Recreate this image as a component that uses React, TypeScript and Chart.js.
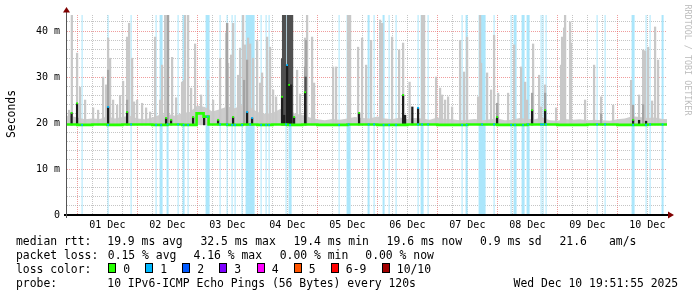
import React, { useEffect, useRef } from 'react';
import { Chart, registerables } from 'chart.js';

Chart.register(...registerables);

// ---- axes (x in hours relative to 01 Dec 00:00, y in milliseconds) ----
const startHour = -4.135; // Nov 30 19:52
const endHour = 235.865; // Dec 10 19:52
const yMaxMs = 43.5;
const smokeFloorMs = 19.6;

const dayLabels = ['01 Dec', '02 Dec', '03 Dec', '04 Dec', '05 Dec', '06 Dec', '07 Dec', '08 Dec', '09 Dec', '10 Dec'];
const yLabelValues = [0, 10, 20, 30, 40];
const yLabelTexts = ['0', '10 m', '20 m', '30 m', '40 m'];

// ---- loss periods (full height light blue) ----
const lossStart = [
  1.7, 12.1, 21.3, 31.3, 32.9, 35.7, 40.1, 42.1, 44.1, 51.3, 56.9, 59.7, 61.7, 62.9, 65.7, 67.3,
  73.3, 75.3, 76.5, 83.3, 84.5, 104.5, 107.7, 116.1, 118.5, 122.1, 124.5, 127.3, 136.1, 137.3, 140.1,
  153.7, 155.3, 160.5, 166.5, 173.3, 174.5, 177.7, 179.7, 185.3, 186.1, 187.3, 207.7, 210.9, 221.7,
  227.3, 228.9, 233.7,
];
const lossDur = [
  0.4, 0.4, 0.4, 0.4, 1.2, 0.8, 0.4, 0.8, 0.4, 1.6, 0.4, 0.4, 0.4, 0.4, 0.4, 3.6,
  0.4, 0.4, 0.4, 0.4, 1.2, 0.4, 1.6, 0.8, 0.4, 0.8, 0.4, 0.4, 0.4, 1.2, 0.4,
  0.4, 0.8, 2.8, 0.4, 0.4, 1.2, 1.2, 1.2, 0.4, 0.4, 0.4, 0.4, 0.4, 1.2,
  0.4, 0.4, 0.8,
];

// ---- median rtt (ms), step values ----
const medianHours = [-4.2, 0, 6, 12, 18, 24, 30, 36, 42, 47.7, 50.5, 52.5, 60, 66, 72, 78, 84, 90, 96, 108, 120, 132, 144, 156, 168, 180, 192, 204, 216, 228, 236];
const medianMs = [19.7, 19.6, 19.7, 19.6, 19.7, 19.7, 19.6, 19.7, 19.6, 22.1, 21.4, 19.7, 19.6, 19.7, 19.6, 19.7, 19.6, 19.7, 19.6, 19.7, 19.6, 19.7, 19.6, 19.7, 19.6, 19.7, 19.6, 19.7, 19.6, 19.7, 19.7];

// ---- base smoke band top (ms), every 3 hours from -6 h ----
const bandFirstHour = -6;
const bandStepHours = 3;
const bandMs = [
  21.6, 21.6, 21.2, 20.8, 21.0, 20.9, 21.5, 21.0, 21.3, 21.6,
  21.0, 20.8, 21.2, 21.8, 22.0, 21.6, 22.2, 22.4, 23.8, 23.5,
  22.5, 23.0, 23.6, 23.2, 24.0, 23.5, 22.4, 22.0, 22.2, 23.0,
  23.5, 22.0, 21.8, 21.2, 20.8, 20.6, 20.9, 20.7, 21.0, 21.3,
  21.1, 21.0, 21.4, 21.0, 20.8, 21.2, 20.9, 21.1, 21.0, 20.7,
  21.2, 20.9, 20.8, 20.6, 20.7, 20.9, 20.6, 20.8, 21.0, 20.6,
  20.7, 21.1, 20.9, 20.8, 21.2, 20.6, 20.5, 20.9, 20.7, 20.8,
  20.6, 20.7, 20.6, 20.5, 20.8, 21.0, 21.5, 21.3, 21.1, 21.2,
  20.9, 20.9,
];

// ---- light smoke spikes (max ping, ms) ----
const spikeHours = [
  -3.3, -2.2, -0.1, 1.1, 3.1, 6.3, 8.3, 10.3, 11.5, 12.3, 13.1, 14.3, 15.9, 17.1, 18.3, 19.9, 20.7, 21.9, 22.7, 23.9,
  25.9, 27.5, 29.1, 31.1, 33.1, 33.9, 35.1, 35.9, 37.9, 39.5, 41.9, 42.7, 43.1, 44.3, 45.5, 47.1, 49.5, 52.3, 54.3,
  57.1, 59.5, 59.9, 60.3, 61.5, 62.3, 64.3, 65.1, 66.3, 67.1, 68.3, 69.1, 70.3, 71.9, 73.1, 73.9, 75.9, 77.1, 78.3,
  79.5, 87.9, 89.1, 91.1, 91.9, 93.9, 94.7, 102.3, 103.5, 108.3, 109.1, 112.3, 113.9, 115.5, 117.5, 121.1, 121.9,
  125.9, 128.7, 130.3, 132.9, 137.9, 138.7, 143.5, 145.1, 145.9, 147.1, 148.3, 149.9, 153.1, 154.7, 155.9, 160.3,
  161.1, 161.5, 163.9, 165.5, 166.7, 168.3, 172.3, 174.7, 177.5, 179.1, 179.9, 182.3, 184.7, 185.5, 187.1, 191.5,
  193.5, 193.9, 194.7, 195.1, 197.1, 197.5, 203.1, 206.7, 209.5, 214.3, 221.5, 224.7, 226.3, 227.1, 228.3, 229.9,
  231.1, 232.3,
];
const spikeMs = [
  22.8, 44, 35.2, 27.8, 25, 23.3, 22.8, 30, 28.3, 38.5, 34.1, 25, 23.9, 26, 29.1, 38.7, 41.7, 34.1, 24.6, 25,
  24.3, 23.3, 22.4, 38.7, 25, 32.6, 44, 44, 34.3, 25.5, 28.9, 29.3, 44, 44, 27.6, 37.2, 26.1, 29.3, 25,
  34.1, 39.6, 41.7, 33, 34.8, 41.7, 30.4, 36.3, 44, 37, 38.5, 37.2, 34.1, 38, 28.7, 30.9, 38.7, 36.5, 27.2,
  25.7, 31.5, 26.3, 38.5, 44, 38.7, 28.7, 32.2, 32.2, 44, 44, 36.5, 38.5, 32.6, 38, 42.4, 41.7,
  38.7, 35.9, 37.4, 28.9, 44, 44, 30, 27.6, 26.1, 25, 25.7, 23.5, 38, 31.1, 38.7, 25.7,
  44, 33, 30.9, 27.2, 39.1, 26.5, 26.5, 37, 32.2, 28.9, 25, 37.2, 30.4, 23.5, 28.3, 23.3,
  32.6, 38.7, 40.7, 44, 42, 37.4, 25, 32.6, 25.7, 23.9, 29.3, 26.1, 35.9, 35.7, 36.5, 24.8,
  40.9, 33.7,
];

// ---- mid grey smoke ----
const midHours = [12.3, 19.9, 36.3, 59.9, 66.7, 67.9, 91.1, 91.5, 167.9, 181.9, 187.1, 209.5, 222.3, 226.3];
const midMs = [31.5, 25, 44, 41.7, 29.3, 33.7, 32.2, 38, 24.3, 26.5, 26.5, 22, 23.9, 24];

// ---- dark grey smoke ----
const darkHours = [81.9, 82.3, 83.1, 84.3, 85.1, 85.9, 91.3];
const darkMs = [34, 44, 44, 44, 44, 44, 30];

// ---- near-median black smoke, with the loss count at its top (null = none) ----
const blackHours = [-2.3, -0.1, 12.3, 19.9, 35.5, 37.5, 46.3, 50.7, 56.3, 62.3, 67.9, 69.9, 81.9, 82.7, 83.9, 84.7, 85.5, 86.7, 91.1, 112.7, 130.3, 131.1, 134.0, 136.3, 167.9, 181.9, 187.1, 222.3, 224.7, 227.5];
const blackMs = [22.2, 24.3, 23.5, 22.4, 21.1, 20.7, 21.3, 21.3, 20.7, 21.3, 22.4, 21.1, 25.7, 21.7, 32.6, 28.3, 28.3, 21.3, 26.7, 22.2, 26.1, 21.7, 23.5, 23.3, 21.3, 22.8, 22.8, 20.7, 20.6, 20.4];
const blackLoss = [0, 0, 1, 0, 0, 0, 0, null, 0, 0, 1, 1, 0, null, 1, 0, null, 0, 0, 0, 0, null, null, 1, 0, 0, 0, 0, null, null];

// ---- legend ----
const lossColors = ['#26ff00', '#00b8ff', '#0059ff', '#7e00ff', '#ff00ff', '#ff5500', '#ff0000', '#a10000'];
const lossLabels = ['0', '1', '2', '3', '4', '5', '6-9', '10/10'];
const lossBoxX = [108, 145, 182, 219, 256.5, 293.5, 330.5, 381.5];
const rttTexts = ['median rtt:', '19.9 ms avg', '32.5 ms max', '19.4 ms min', '19.6 ms now', '0.9 ms sd', '21.6', 'am/s'];
const rttX = [16, 107.3, 200.4, 293.5, 386.6, 480, 559.5, 609];
const plTexts = ['packet loss:', '0.15 % avg', '4.16 % max', '0.00 % min', '0.00 % now'];
const plX = [16, 107.8, 193.5, 279.7, 365.3];
const probeTexts = ['probe:', '10 IPv6-ICMP Echo Pings (56 Bytes) every 120s', 'Wed Dec 10 19:51:55 2025'];
const probeX = [16, 107.3, 513.6];

const MONO = "'DejaVu Sans Mono', monospace";
const GRID_MINOR = 'rgba(150,150,150,0.55)';
const GRID_MAJOR = 'rgba(230,90,90,0.6)';

function medianAt(h: number): number {
  let v = medianMs[0];
  for (let i = 0; i < medianHours.length; i++) if (medianHours[i] <= h) v = medianMs[i];
  return v;
}

const rrdAxes = {
  id: 'rrdAxes',
  afterDatasetsDraw(chart: any) {
    const { ctx, chartArea: a } = chart;
    ctx.save();
    ctx.strokeStyle = '#000';
    ctx.lineWidth = 2;
    ctx.beginPath();
    ctx.moveTo(a.left - 3, a.bottom);
    ctx.lineTo(a.right + 2, a.bottom);
    ctx.stroke();
    ctx.strokeStyle = '#555';
    ctx.lineWidth = 1;
    ctx.beginPath();
    ctx.moveTo(a.left - 0.5, a.bottom + 3);
    ctx.lineTo(a.left - 0.5, a.top - 3);
    ctx.stroke();
    ctx.fillStyle = '#7f0000';
    ctx.beginPath();
    ctx.moveTo(a.left - 4, a.top - 2.5);
    ctx.lineTo(a.left + 3, a.top - 2.5);
    ctx.lineTo(a.left - 0.5, a.top - 8);
    ctx.closePath();
    ctx.fill();
    ctx.beginPath();
    ctx.moveTo(a.right + 1, a.bottom - 3.5);
    ctx.lineTo(a.right + 1, a.bottom + 3.5);
    ctx.lineTo(a.right + 7, a.bottom);
    ctx.closePath();
    ctx.fill();
    ctx.restore();
  },
};

function barSet(hours: number[], tops: number[], color: string, order: number) {
  return {
    type: 'bar' as const,
    data: hours.map((h, i) => ({ x: h, y: [smokeFloorMs, tops[i]] })),
    backgroundColor: color,
    borderWidth: 0,
    barThickness: 1.6,
    stack: 'smoke',
    order,
    clip: 0,
  };
}

export default function App() {
  const canvasRef = useRef<HTMLCanvasElement>(null);
  useEffect(() => {
    document.body.style.margin = '0';
    const canvas = canvasRef.current;
    if (!canvas) return;

    const lossData: any[] = [{ x: startHour, y: 0 }];
    lossStart.forEach((s, i) => {
      lossData.push({ x: s, y: 60 });
      lossData.push({ x: s + lossDur[i], y: 0 });
    });
    lossData.push({ x: endHour, y: 0 });

    const bandData = bandMs.map((v, i) => ({ x: bandFirstHour + i * bandStepHours, y: v }));
    const medianData = medianHours.map((h, i) => ({ x: h, y: medianMs[i] }));
    const lossDots = lossStart.map((s, i) => ({ x: s + lossDur[i] / 2, y: medianAt(s + lossDur[i] / 2) }));
    const blackDotIdx = blackLoss.map((l, i) => i).filter((i) => blackLoss[i] !== null);
    const blackDots = blackDotIdx.map((i) => ({ x: blackHours[i], y: blackMs[i] }));
    const blackDotColors = blackDotIdx.map((i) => lossColors[blackLoss[i] as number]);

    const chart = new Chart(canvas, {
      type: 'bar',
      data: {
        datasets: [
          {
            type: 'line',
            data: blackDots,
            showLine: false,
            pointStyle: 'rect',
            pointRadius: 1.3,
            pointBorderWidth: 0,
            pointBackgroundColor: blackDotColors,
            order: 0,
            clip: 0,
          } as any,
          {
            type: 'line',
            data: lossDots,
            showLine: false,
            pointStyle: 'rect',
            pointRadius: 1.3,
            pointBorderWidth: 0,
            pointBackgroundColor: lossColors[1],
            order: 1,
            clip: 0,
          },
          {
            type: 'line',
            data: medianData,
            stepped: true,
            borderColor: lossColors[0],
            borderWidth: 2.6,
            pointRadius: 0,
            fill: false,
            order: 2,
            clip: 0,
          },
          barSet(blackHours, blackMs, '#1e1e1e', 3),
          barSet(darkHours, darkMs, '#505050', 4),
          barSet(midHours, midMs, '#a4a4a4', 5),
          barSet(spikeHours, spikeMs, '#c8c8c8', 6),
          {
            type: 'line',
            data: bandData,
            borderWidth: 0,
            pointRadius: 0,
            backgroundColor: '#cdcdcd',
            fill: { value: smokeFloorMs },
            order: 7,
            clip: 0,
          },
          {
            type: 'line',
            data: lossData,
            stepped: true,
            borderWidth: 0,
            pointRadius: 0,
            backgroundColor: '#abe6fb',
            fill: 'origin',
            order: 8,
            clip: 0,
          },
        ] as any,
      },
      options: {
        animation: false,
        responsive: false,
        devicePixelRatio: 1,
        events: [],
        layout: { padding: { left: 0, right: 30, top: 15, bottom: 0 } },
        plugins: { legend: { display: false }, tooltip: { enabled: false } },
        scales: {
          x: {
            type: 'linear',
            min: startHour,
            max: endHour,
            offset: false,
            afterFit: (s: any) => {
              s.height = 82;
            },
            afterBuildTicks: (s: any) => {
              const t = [];
              for (let v = 0; v <= endHour; v += 6) t.push({ value: v });
              s.ticks = t;
            },
            grid: {
              offset: false,
              drawTicks: false,
              lineWidth: 1,
              color: (c: any) => (c.tick && c.tick.value % 24 === 0 ? GRID_MAJOR : GRID_MINOR),
            },
            border: { display: false, dash: [1, 1] },
            ticks: {
              autoSkip: false,
              maxRotation: 0,
              padding: 4,
              color: '#000',
              font: { family: MONO, size: 10 },
              callback: (v: any) => {
                const n = Number(v);
                return (n - 12) % 24 === 0 ? dayLabels[(n - 12) / 24] : '';
              },
            },
          },
          y: {
            type: 'linear',
            min: 0,
            max: yMaxMs,
            stacked: false,
            afterFit: (s: any) => {
              s.width = 67;
            },
            afterBuildTicks: (s: any) => {
              const t = [];
              for (let v = 0; v <= yMaxMs; v += 2) t.push({ value: v });
              s.ticks = t;
            },
            grid: {
              drawTicks: false,
              lineWidth: 1,
              color: (c: any) => {
                const v = c.tick ? c.tick.value : 0;
                if (v === 0) return 'rgba(0,0,0,0)';
                return v % 10 === 0 ? GRID_MAJOR : GRID_MINOR;
              },
            },
            border: { display: false, dash: [1, 1] },
            ticks: {
              autoSkip: false,
              padding: 7,
              color: '#000',
              font: { family: MONO, size: 10 },
              callback: (v: any) => {
                const i = yLabelValues.indexOf(Number(v));
                return i >= 0 ? yLabelTexts[i] : '';
              },
            },
          },
        },
      },
      plugins: [rrdAxes],
    } as any);
    return () => chart.destroy();
  }, []);

  const textStyle = (x: number, cy: number): React.CSSProperties => ({
    position: 'absolute',
    left: x,
    top: cy - 7,
    height: 14,
    lineHeight: '14px',
    whiteSpace: 'pre',
    fontFamily: MONO,
    fontSize: 11.4,
    color: '#000',
  });

  return (
    <div style={{ position: 'absolute', left: 0, top: 0, width: 697, height: 297, background: '#fff', overflow: 'hidden' }}>
      <canvas ref={canvasRef} width={697} height={297} style={{ position: 'absolute', left: 0, top: 0, width: 697, height: 297 }} />
      <div
        style={{
          position: 'absolute',
          left: 10.5 - 50,
          top: 114 - 7,
          width: 100,
          height: 14,
          lineHeight: '14px',
          textAlign: 'center',
          transform: 'rotate(-90deg)',
          fontFamily: MONO,
          fontSize: 11.4,
          color: '#000',
        }}
      >
        Seconds
      </div>
      <div
        style={{
          position: 'absolute',
          left: 688 - 60,
          top: 60 - 5,
          width: 120,
          height: 10,
          lineHeight: '10px',
          textAlign: 'center',
          transform: 'rotate(90deg)',
          fontFamily: MONO,
          fontSize: 8.4,
          color: '#bdbdbd',
        }}
      >
        RRDTOOL / TOBI OETIKER
      </div>
      {rttTexts.map((t, i) => (
        <div key={'r' + i} style={textStyle(rttX[i], 241)}>{t}</div>
      ))}
      {plTexts.map((t, i) => (
        <div key={'p' + i} style={textStyle(plX[i], 255)}>{t}</div>
      ))}
      <div style={textStyle(16, 269)}>loss color:</div>
      {lossLabels.map((t, i) => (
        <React.Fragment key={'l' + i}>
          <div
            style={{
              position: 'absolute',
              left: lossBoxX[i],
              top: 263,
              width: 6,
              height: 8,
              border: '1px solid #000',
              background: lossColors[i],
            }}
          />
          <div style={textStyle(lossBoxX[i] + 15.3, 269)}>{t}</div>
        </React.Fragment>
      ))}
      {probeTexts.map((t, i) => (
        <div key={'q' + i} style={textStyle(probeX[i], 283)}>{t}</div>
      ))}
    </div>
  );
}
